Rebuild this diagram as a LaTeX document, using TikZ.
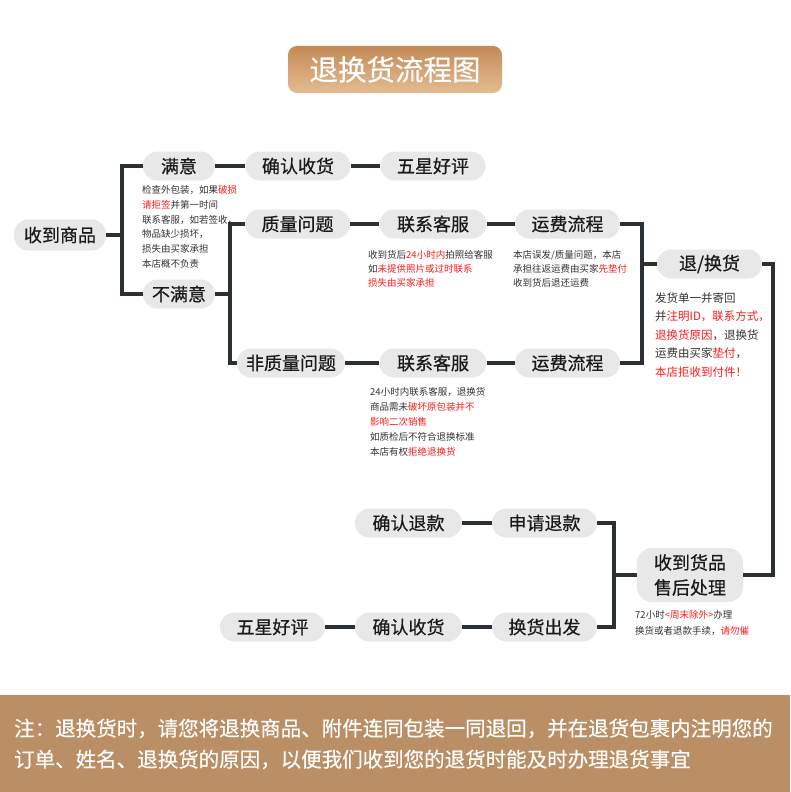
\documentclass[tikz,border=0pt]{standalone}
\usepackage{fontspec}
\setmainfont{Noto Sans CJK SC}
\newfontfamily\pillfont[FakeBold=0.5]{Noto Sans CJK SC}
\newfontfamily\footfont[FakeBold=0.3]{Noto Sans CJK SC}
\definecolor{pillfill}{HTML}{E8E8E8}
\definecolor{linec}{HTML}{2B2F36}
\definecolor{redt}{HTML}{FF1A1A}
\definecolor{txt}{HTML}{1A1A1A}
\definecolor{smallt}{HTML}{333333}
\definecolor{band}{HTML}{BB8F66}
\definecolor{titletop}{HTML}{C48A58}
\definecolor{titlebot}{HTML}{E4BC92}
\newcommand{\rd}[1]{\textcolor{redt}{#1}}
\begin{document}
\begin{tikzpicture}[x=1pt,y=-1pt,
  pill/.style={fill=pillfill, rounded corners=14.5pt, minimum height=29pt, inner sep=0pt, text=txt, font=\pillfont\fontsize{18}{20}\selectfont},
  conn/.style={draw=linec, line width=3.6pt},
  note/.style={anchor=north west, align=left, inner sep=0pt, text=smallt},
]
\useasboundingbox (0,0) rectangle (790,792);
\fill[white] (0,0) rectangle (790,792);

% title
\node (title) [minimum width=214pt, minimum height=47pt, rounded corners=9pt, top color=titletop, bottom color=titlebot, draw=none, text=white, inner sep=0pt, font=\footfont\fontsize{28.5}{30}\selectfont] at (395,69.5) {退换货流程图};

% main nodes
\node[pill, minimum width=92pt, minimum height=31pt] (shsp) at (60,235) {收到商品};
\node[pill, minimum width=72pt] (manyi) at (179,166) {满意};
\node[pill, minimum width=105pt] (qrsh1) at (298,166) {确认收货};
\node[pill, minimum width=105pt] (wxhp1) at (433,166) {五星好评};
\node[pill, minimum width=72pt] (bumanyi) at (179,294) {不满意};
\node[pill, minimum width=105pt] (zlwt) at (297.5,224) {质量问题};
\node[pill, minimum width=107pt] (lxkf1) at (433,224) {联系客服};
\node[pill, minimum width=105pt] (yflc1) at (567.5,224) {运费流程};
\node[pill, minimum width=108pt] (fzlwt) at (291,363) {非质量问题};
\node[pill, minimum width=107pt] (lxkf2) at (433,363) {联系客服};
\node[pill, minimum width=105pt] (yflc2) at (567.5,363) {运费流程};
\node[pill, minimum width=105pt] (thh) at (709.5,264) {退/换货};
\node[pill, minimum width=106pt, minimum height=54pt, rounded corners=15pt, align=center, font=\pillfont\fontsize{18}{25}\selectfont] (sdhp) at (690,575) {收到货品\\售后处理};
\node[pill, minimum width=105pt] (sqtk) at (544.5,523) {申请退款};
\node[pill, minimum width=107pt] (qrtk) at (408.5,523) {确认退款};
\node[pill, minimum width=105pt] (hhcf) at (544.5,627) {换货出发};
\node[pill, minimum width=107pt] (qrsh2) at (408.5,627) {确认收货};
\node[pill, minimum width=105pt] (wxhp2) at (272.5,627) {五星好评};

% connectors
\draw[conn] (shsp.east) -- ++(16,0) |- (manyi.west);
\draw[conn] (shsp.east) -- ++(16,0) |- (bumanyi.west);
\draw[conn] (manyi.east) -- (qrsh1.west);
\draw[conn] (qrsh1.east) -- (wxhp1.west);
\draw[conn] (bumanyi.east) -- ++(15,0) |- (zlwt.west);
\draw[conn] (bumanyi.east) -- ++(15,0) |- (fzlwt.west);
\draw[conn] (zlwt.east) -- (lxkf1.west);
\draw[conn] (lxkf1.east) -- (yflc1.west);
\draw[conn] (fzlwt.east) -- (lxkf2.west);
\draw[conn] (lxkf2.east) -- (yflc2.west);
\draw[conn] (yflc1.east) -- ++(22,0) |- (thh.west);
\draw[conn] (yflc2.east) -- ++(22,0) |- (thh.west);
\draw[conn] (thh.east) -- ++(11,0) |- (sdhp.east);
\draw[conn] (sdhp.west) -- ++(-23,0) |- (sqtk.east);
\draw[conn] (sdhp.west) -- ++(-23,0) |- (hhcf.east);
\draw[conn] (sqtk.west) -- (qrtk.east);
\draw[conn] (hhcf.west) -- (qrsh2.east);
\draw[conn] (qrsh2.west) -- (wxhp2.east);

% notes
\node[note, font=\fontsize{9.5}{14.8}\selectfont] (n1) at (142,185.25) {检查外包装，如果\rd{破损}\\\rd{请拒签}并第一时间\\联系客服，如若签收，\\物品缺少损坏，\\损失由买家承担\\本店概不负责};
\node[note, font=\fontsize{9.5}{14}\selectfont] (n2) at (368,250.25) {收到货后\rd{24小时内}拍照给客服\\如\rd{未提供照片或过时联系}\\\rd{损失由买家承担}};
\node[note, font=\fontsize{9.5}{14}\selectfont] (n3) at (513,250.25) {本店误发/质量问题，本店\\承担往返运费由买家\rd{先垫付}\\收到货后退还运费};
\node[note, font=\fontsize{9.5}{15}\selectfont] (n4) at (370,387.25) {24小时内联系客服，退换货\\商品需未\rd{破坏原包装并不}\\\rd{影响二次销售}\\如质检后不符合退换标准\\本店有权\rd{拒绝退换货}};
\node[note, font=\fontsize{11.5}{18.5}\selectfont] (n5) at (655,292.2) {发货单一并寄回\\并\rd{注明ID，联系方式，}\\\rd{退换货原因}，退换货\\运费由买家\rd{垫付}，\\\rd{本店拒收到付件！}};
\node[note, font=\fontsize{9.5}{16}\selectfont] (n6) at (635,610.25) {72小时\rd{<周末除外>}办理\\换货或者退款手续，\rd{请勿催}};

% footer
\fill[band] (0,695) rectangle (790,792);
\node[note, text=white, font=\footfont\fontsize{20.5}{31}\selectfont] (foot) at (14,718.5) {注：退换货时，请您将退换商品、附件连同包装一同退回，并在退货包裹内注明您的\\订单、姓名、退换货的原因，以便我们收到您的退货时能及时办理退货事宜};
\end{tikzpicture}
\end{document}
